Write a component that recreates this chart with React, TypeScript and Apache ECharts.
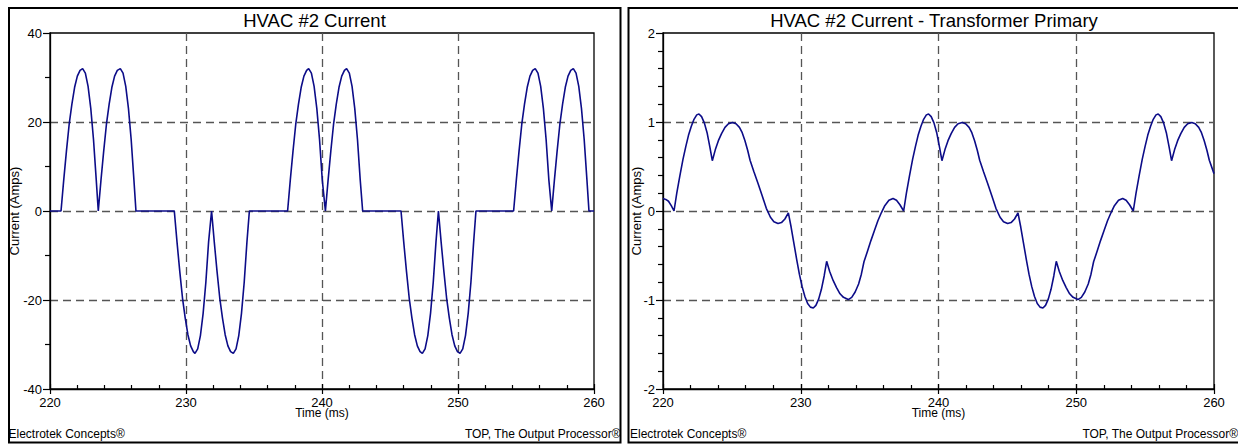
import React, { useEffect, useRef } from "react";
import * as echarts from "echarts";

// ---------- data ----------
const leftTitle = "HVAC #2 Current";
const rightTitle = "HVAC #2 Current - Transformer Primary";
const xName = "Time (ms)";
const yName = "Current (Amps)";
const footerLeft = "Electrotek Concepts®";
const footerRight = "TOP, The Output Processor®";

const timeMin = 220;
const timeMax = 260;
const timeStep = 10;
const ampsLeftMin = -40;
const ampsLeftMax = 40;
const ampsLeftStep = 20;
const ampsRightMin = -2;
const ampsRightMax = 2;
const ampsRightStep = 1;

// HVAC #2 current (left panel)
const hvacTime = [
  220.0, 220.81, 221.01, 221.21, 221.41, 221.61, 221.81, 222.01, 222.21, 222.4, 222.6, 222.8, 223.0, 223.2, 223.4, 223.55,
  223.75, 223.95, 224.15, 224.35, 224.55, 224.75, 224.95, 225.17, 225.37, 225.57, 225.77, 225.97, 226.17, 226.32,
  229.14, 229.34, 229.54, 229.74, 229.94, 230.14, 230.34, 230.54, 230.66, 230.86, 231.06, 231.26, 231.46, 231.66, 231.88,
  232.08, 232.28, 232.48, 232.68, 232.88, 233.08, 233.28, 233.48, 233.68, 233.88, 234.08, 234.28, 234.48, 234.66,
  237.47, 237.67, 237.87, 238.07, 238.27, 238.47, 238.67, 238.87, 239.02, 239.22, 239.42, 239.62, 239.82, 240.02, 240.25,
  240.45, 240.65, 240.85, 241.05, 241.25, 241.45, 241.65, 241.81, 242.01, 242.21, 242.41, 242.61, 242.81, 242.99,
  245.81, 246.01, 246.21, 246.41, 246.61, 246.81, 247.01, 247.21, 247.38, 247.58, 247.78, 247.98, 248.18, 248.38, 248.56,
  248.76, 248.96, 249.16, 249.36, 249.56, 249.76, 249.96, 250.15, 250.35, 250.55, 250.75, 250.95, 251.15, 251.32,
  254.09, 254.29, 254.49, 254.69, 254.89, 255.09, 255.29, 255.49, 255.68, 255.88, 256.08, 256.28, 256.48, 256.68, 256.89,
  257.09, 257.29, 257.49, 257.69, 257.89, 258.09, 258.29, 258.48, 258.68, 258.88, 259.08, 259.28, 259.48, 259.63, 260.0,
];
const hvacAmps = [
  0, 0, 7, 13.5, 19.5, 24, 27.8, 30.3, 31.6, 32, 31, 28, 23, 16, 7, 0,
  7, 13.5, 19.5, 24, 27.8, 30.3, 31.6, 32, 31, 28, 23, 16, 7, 0,
  0, -7, -13.5, -19.5, -24, -27.8, -30.3, -31.6, -32, -31, -28, -23, -16, -7, 0,
  -7, -13.5, -19.5, -24, -27.8, -30.3, -31.6, -32, -31, -28, -23, -16, -7, 0,
  0, 7, 13.5, 19.5, 24, 27.8, 30.3, 31.6, 32, 31, 28, 23, 16, 7, 0,
  7, 13.5, 19.5, 24, 27.8, 30.3, 31.6, 32, 31, 28, 23, 16, 7, 0,
  0, -7, -13.5, -19.5, -24, -27.8, -30.3, -31.6, -32, -31, -28, -23, -16, -7, 0,
  -7, -13.5, -19.5, -24, -27.8, -30.3, -31.6, -32, -31, -28, -23, -16, -7, 0,
  0, 7, 13.5, 19.5, 24, 27.8, 30.3, 31.6, 32, 31, 28, 23, 16, 7, 0,
  7, 13.5, 19.5, 24, 27.8, 30.3, 31.6, 32, 31, 28, 23, 16, 7, 0, 0,
];

// Transformer primary current (right panel)
const primaryTime = [
  220.0, 220.2, 220.4, 220.6, 220.8, 221.0, 221.23, 221.45, 221.65, 221.85, 222.05, 222.25, 222.45, 222.61, 222.8, 223.0,
  223.2, 223.4, 223.58, 223.8, 224.02, 224.25, 224.5, 224.75, 225.05, 225.3, 225.55, 225.75, 225.95, 226.15, 226.32,
  226.6, 226.9, 227.2, 227.5, 227.8, 228.05, 228.35, 228.6, 228.85, 229.1, 229.3, 229.5, 229.7, 229.9, 230.1, 230.3,
  230.5, 230.7, 230.91, 231.1, 231.3, 231.5, 231.7, 231.88, 232.1, 232.35, 232.6, 232.85, 233.1, 233.45, 233.7, 233.95,
  234.2, 234.4, 234.59, 234.85, 235.1, 235.35, 235.6, 235.85, 236.1, 236.4, 236.7, 236.95, 237.2, 237.47,
  237.67, 237.9, 238.12, 238.32, 238.52, 238.72, 238.92, 239.12, 239.28, 239.47, 239.67, 239.87, 240.07, 240.25,
  240.47, 240.69, 240.92, 241.17, 241.42, 241.72, 241.97, 242.22, 242.42, 242.62, 242.82, 242.99,
  243.27, 243.57, 243.87, 244.17, 244.47, 244.72, 245.02, 245.27, 245.52, 245.77, 245.97, 246.17, 246.37, 246.57, 246.77, 246.97,
  247.17, 247.37, 247.58, 247.77, 247.97, 248.17, 248.37, 248.55, 248.77, 249.02, 249.27, 249.52, 249.77, 250.12, 250.37, 250.62,
  250.87, 251.07, 251.26, 251.52, 251.77, 252.02, 252.27, 252.52, 252.77, 253.07, 253.37, 253.62, 253.87, 254.14,
  254.34, 254.57, 254.79, 254.99, 255.19, 255.39, 255.59, 255.79, 255.95, 256.14, 256.34, 256.54, 256.74, 256.92,
  257.14, 257.36, 257.59, 257.84, 258.09, 258.39, 258.64, 258.89, 259.09, 259.29, 259.49, 259.66, 260.0,
];
const primaryAmps = [
  0.14, 0.13, 0.11, 0.06, 0.0, 0.2, 0.4, 0.58, 0.72, 0.85, 0.95, 1.03, 1.08, 1.09, 1.06, 0.99,
  0.88, 0.72, 0.565, 0.69, 0.79, 0.87, 0.94, 0.98, 0.995, 0.98, 0.94, 0.88, 0.79, 0.68, 0.57,
  0.44, 0.31, 0.17, 0.03, -0.07, -0.12, -0.14, -0.13, -0.09, -0.02, -0.18, -0.36, -0.54, -0.71, -0.85, -0.96,
  -1.04, -1.08, -1.09, -1.06, -0.99, -0.88, -0.73, -0.565, -0.68, -0.78, -0.86, -0.93, -0.97, -0.995, -0.97, -0.91,
  -0.82, -0.71, -0.57, -0.45, -0.33, -0.22, -0.11, -0.02, 0.06, 0.12, 0.14, 0.12, 0.07, 0.0,
  0.2, 0.4, 0.58, 0.72, 0.85, 0.95, 1.03, 1.08, 1.09, 1.06, 0.99, 0.88, 0.72, 0.565,
  0.69, 0.79, 0.87, 0.94, 0.98, 0.995, 0.98, 0.94, 0.88, 0.79, 0.68, 0.57,
  0.44, 0.31, 0.17, 0.03, -0.07, -0.12, -0.14, -0.13, -0.09, -0.02, -0.18, -0.36, -0.54, -0.71, -0.85, -0.96,
  -1.04, -1.08, -1.09, -1.06, -0.99, -0.88, -0.73, -0.565, -0.68, -0.78, -0.86, -0.93, -0.97, -0.995, -0.97, -0.91,
  -0.82, -0.71, -0.57, -0.45, -0.33, -0.22, -0.11, -0.02, 0.06, 0.12, 0.14, 0.12, 0.07, 0.0,
  0.2, 0.4, 0.58, 0.72, 0.85, 0.95, 1.03, 1.08, 1.09, 1.06, 0.99, 0.88, 0.72, 0.565,
  0.69, 0.79, 0.87, 0.94, 0.98, 0.995, 0.98, 0.94, 0.88, 0.79, 0.68, 0.57, 0.42,
];

// ---------- styling ----------
const FONT = "'Liberation Sans', Arial, Helvetica, sans-serif";
const LINE_COLOR = "#0c0c88";
const GRID_COLOR = "#555555";

const zip = (xs: number[], ys: number[]) => xs.map((x, i) => [x, ys[i]]);

function xAxes(gridIndex: number) {
  return [
    {
      gridIndex,
      type: "value",
      position: "bottom",
      min: timeMin,
      max: timeMax,
      interval: timeStep,
      axisLine: { show: true, onZero: false, lineStyle: { color: "#000", width: 1.3 } },
      axisTick: { show: true, inside: false, length: 5, lineStyle: { color: "#000", width: 1.2 } },
      axisLabel: { color: "#000", fontSize: 13, fontFamily: FONT, margin: 7 },
      splitLine: {
        show: true,
        showMinLine: false,
        showMaxLine: false,
        lineStyle: { color: GRID_COLOR, width: 1.3, type: [8, 5] },
      },
    },
    {
      gridIndex,
      type: "value",
      position: "bottom",
      min: timeMin,
      max: timeMax,
      interval: timeStep,
      axisLine: { show: false, onZero: false },
      axisTick: { show: true, inside: true, length: 5, lineStyle: { color: "#000", width: 1.2 } },
      minorTick: { show: true, splitNumber: 5, length: 4, lineStyle: { color: "#000", width: 1.2 } },
      axisLabel: { show: false },
      splitLine: { show: false },
    },
  ];
}

function yAxes(gridIndex: number, min: number, max: number, step: number, minorSplit: number) {
  return [
    {
      gridIndex,
      type: "value",
      position: "left",
      min,
      max,
      interval: step,
      axisLine: { show: true, onZero: false, lineStyle: { color: "#000", width: 1.3 } },
      axisTick: { show: true, inside: false, length: 7, lineStyle: { color: "#000", width: 1.2 } },
      axisLabel: { color: "#000", fontSize: 13, fontFamily: FONT, margin: 8 },
      splitLine: {
        show: true,
        showMinLine: false,
        showMaxLine: false,
        lineStyle: { color: GRID_COLOR, width: 1.3, type: [8, 5] },
      },
    },
    {
      gridIndex,
      type: "value",
      position: "left",
      min,
      max,
      interval: step,
      axisLine: { show: false, onZero: false },
      axisTick: { show: false },
      minorTick: { show: true, splitNumber: minorSplit, length: 5, lineStyle: { color: "#000", width: 1.2 } },
      axisLabel: { show: false },
      splitLine: { show: false },
    },
  ];
}

function txt(text: string, x: number, y: number, fontSize: number, align: string, extra: any = {}) {
  return {
    type: "text",
    x,
    y,
    silent: true,
    ...extra,
    style: {
      text,
      fill: "#000",
      fontSize,
      fontFamily: FONT,
      align,
      verticalAlign: "middle",
    },
  };
}

export default function App() {
  const ref = useRef<HTMLDivElement>(null);

  useEffect(() => {
    if (!ref.current) return;
    const chart = echarts.init(ref.current, null, { renderer: "svg" });
    const option: any = {
      animation: false,
      backgroundColor: "#fff",
      grid: [
        { left: 50, top: 33, width: 544, height: 356, show: true, borderColor: "#000", borderWidth: 1.3 },
        { left: 663, top: 33, width: 551, height: 356, show: true, borderColor: "#000", borderWidth: 1.3 },
      ],
      xAxis: [...xAxes(0), ...xAxes(1)],
      yAxis: [
        ...yAxes(0, ampsLeftMin, ampsLeftMax, ampsLeftStep, 2),
        ...yAxes(1, ampsRightMin, ampsRightMax, ampsRightStep, 5),
      ],
      series: [
        {
          type: "line",
          xAxisIndex: 0,
          yAxisIndex: 0,
          data: zip(hvacTime, hvacAmps),
          showSymbol: false,
          lineStyle: { color: LINE_COLOR, width: 1.6 },
          z: 5,
        },
        {
          type: "line",
          xAxisIndex: 2,
          yAxisIndex: 2,
          data: zip(primaryTime, primaryAmps),
          showSymbol: false,
          lineStyle: { color: LINE_COLOR, width: 1.6 },
          z: 5,
        },
      ],
      graphic: [
        {
          type: "rect",
          silent: true,
          shape: { x: 9, y: 8, width: 611.5, height: 434.5 },
          style: { fill: "none", stroke: "#000", lineWidth: 2 },
        },
        {
          type: "rect",
          silent: true,
          shape: { x: 628.5, y: 8, width: 611.5, height: 434.5 },
          style: { fill: "none", stroke: "#000", lineWidth: 2 },
        },
        txt(leftTitle, 314.5, 20, 18.5, "center"),
        txt(rightTitle, 934, 20, 18.5, "center"),
        txt(xName, 322, 413, 12, "center"),
        txt(xName, 938.5, 413, 12, "center"),
        txt(yName, 14.5, 211, 13, "center", { rotation: Math.PI / 2 }),
        txt(yName, 636, 211, 13, "center", { rotation: Math.PI / 2 }),
        txt(footerLeft, 8.5, 434, 12, "left"),
        txt(footerRight, 620.5, 434, 12, "right"),
        txt(footerLeft, 630, 434, 12, "left"),
        txt(footerRight, 1238, 434, 12, "right"),
      ],
    };
    chart.setOption(option);
    return () => chart.dispose();
  }, []);

  return (
    <div
      ref={ref}
      style={{ position: "fixed", left: 0, top: 0, width: 1238, height: 444, background: "#fff" }}
    />
  );
}
